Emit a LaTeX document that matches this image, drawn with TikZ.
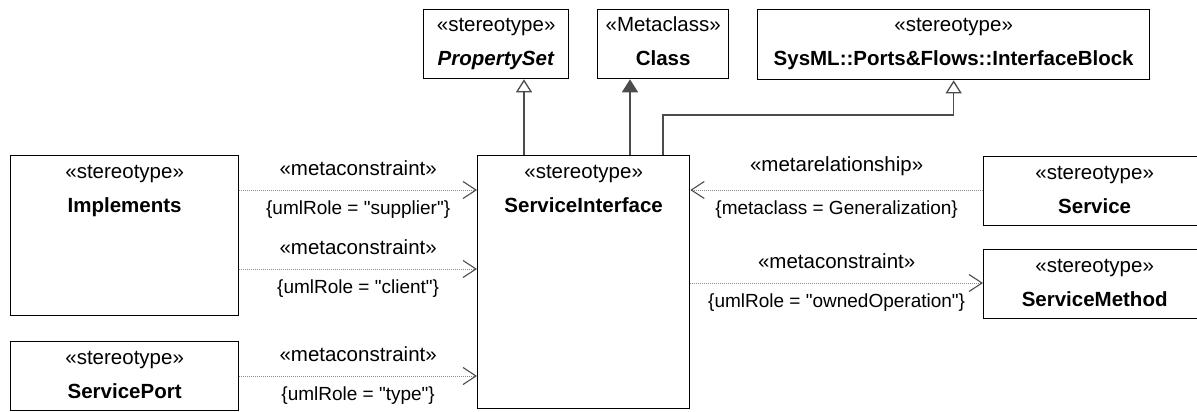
\documentclass[tikz,border=0pt]{standalone}
\usepackage{fontspec}
\setmainfont{Liberation Sans}[Ligatures=TeXOff]
\usepackage{xcolor}
\usepackage{tikz}
\usetikzlibrary{arrows.meta,positioning}

\newcommand{\boxfont}{\fontsize{20.5}{24}\selectfont}
\newcommand{\tagfont}{\fontsize{19}{22}\selectfont}

\begin{document}
\begin{tikzpicture}[x=1pt, y=-1pt,
    umlbox/.style 2 args={draw, line width=1.3pt, anchor=north west, inner sep=0pt,
      label={[anchor=base, yshift=-23pt, inner sep=0pt, font=\boxfont]north:{«#1»}},
      label={[anchor=base, yshift=-57pt, inner sep=0pt, font=\boxfont\bfseries]north:{#2}}},
    meta/.style={draw=black!45, line width=0.9pt, dash pattern=on 1pt off 1pt,
      -{Straight Barb[length=13pt, width=17pt, line width=1.1pt, color=black!70]}},
    gen/.style={draw=black!70, line width=1.5pt,
      -{Triangle[open, length=13pt, width=16pt, fill=white, line width=1.3pt]}},
    ext/.style={draw=black!70, line width=1.5pt,
      -{Triangle[length=13pt, width=16pt]}},
    tagup/.style={midway, above=13.5pt, inner sep=0pt, font=\boxfont},
    tagdn/.style={midway, below=10pt, inner sep=0pt, font=\tagfont}]
    \clip (0,0) rectangle (1197,412);

    % Top row: general classes
    \node[umlbox={stereotype}{\textit{PropertySet}}, minimum width=145pt, minimum height=69pt] (pset) at (423,9) {};
    \node[umlbox={Metaclass}{Class}, minimum width=131pt, minimum height=69pt] (klass) at (597,9) {};
    \node[umlbox={stereotype}{SysML::Ports\&Flows::InterfaceBlock}, minimum width=392pt, minimum height=70pt] (iblock) at (757,9) {};

    % Central stereotype
    \node[umlbox={stereotype}{ServiceInterface}, minimum width=212pt, minimum height=253pt] (sif) at (477,155) {};

    % Left side
    \node[umlbox={stereotype}{Implements}, minimum width=228pt, minimum height=160pt] (impl) at (10,155) {};
    \node[umlbox={stereotype}{ServicePort}, minimum width=228pt, minimum height=69pt] (sport) at (10,341) {};

    % Right side (runs past the page edge)
    \node[umlbox={stereotype}{Service}, minimum width=222pt, minimum height=69pt] (svc) at (983,156) {};
    \node[umlbox={stereotype}{ServiceMethod}, minimum width=222pt, minimum height=69pt] (smeth) at (983,249) {};

    % Generalizations and extension
    \draw[gen] ([xshift=47pt]sif.north west) -- ([xshift=47pt]sif.north west |- pset.south);
    \draw[ext] ([xshift=153pt]sif.north west) -- ([xshift=153pt]sif.north west |- klass.south);
    \coordinate (bend) at (iblock.south |- 0,115);
    \draw[gen] ([xshift=186pt]sif.north west) |- (bend) -- (iblock.south);

    % Metaconstraints from the left
    \draw[meta] ([yshift=-35pt]impl.north east) -- ([yshift=-35pt]impl.north east -| sif.west)
        node[tagup] (mc1) {«metaconstraint»}
        node[tagdn] (ur1) {\{umlRole = "supplier"\}};
    \draw[meta] ([yshift=-114pt]impl.north east) -- ([yshift=-114pt]impl.north east -| sif.west)
        node[tagup] (mc2) {«metaconstraint»}
        node[tagdn] (ur2) {\{umlRole = "client"\}};
    \draw[meta] ([yshift=-35pt]sport.north east) -- ([yshift=-35pt]sport.north east -| sif.west)
        node[tagup] (mc3) {«metaconstraint»}
        node[tagdn] (ur3) {\{umlRole = "type"\}};

    % Right side relations
    \draw[meta] ([yshift=-34pt]svc.north west) -- ([yshift=-34pt]svc.north west -| sif.east)
        node[tagup] (mr1) {«metarelationship»}
        node[tagdn] (mk1) {\{metaclass = Generalization\}};
    \draw[meta] ([yshift=-34pt]smeth.north west -| sif.east) -- ([yshift=-34pt]smeth.north west)
        node[tagup] (mc4) {«metaconstraint»}
        node[tagdn] (ur4) {\{umlRole = "ownedOperation"\}};
\end{tikzpicture}
\end{document}
